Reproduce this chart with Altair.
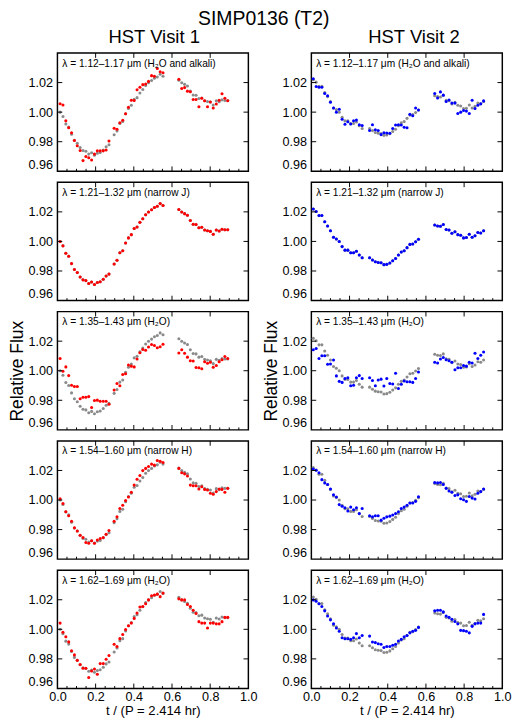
import altair as alt
import pandas as pd

FONT = "Liberation Sans"
W, H = 197, 122
RED, BLUE, GREY = "#ff0000", "#0000ff", "#8a8a8a"

TITLE = "SIMP0136 (T2)"
VISITS = ["HST Visit 1", "HST Visit 2"]
BANDS = [
    "λ = 1.12–1.17 μm (H₂O and alkali)",
    "λ = 1.21–1.32 μm (narrow J)",
    "λ = 1.35–1.43 μm (H₂O)",
    "λ = 1.54–1.60 μm (narrow H)",
    "λ = 1.62–1.69 μm (H₂O)",
]
X_TITLE = "t / (P = 2.414 hr)"
Y_TITLE = "Relative Flux"
X_TICKS = [0.0, 0.2, 0.4, 0.6, 0.8, 1.0]
X_INNER = [0.2, 0.4, 0.6, 0.8]
X_MINOR = [0.05, 0.1, 0.15, 0.25, 0.3, 0.35, 0.45, 0.5, 0.55, 0.65, 0.7, 0.75, 0.85, 0.9, 0.95]
Y_TICKS = [0.96, 0.98, 1.00, 1.02, 1.04]
Y_INNER = [0.98, 1.00, 1.02]

# ---- Visit 1 ----
T_V1 = [0.014, 0.029, 0.044, 0.059, 0.074, 0.089, 0.104, 0.119, 0.134, 0.149, 0.164, 0.179, 0.194, 0.209, 0.224, 0.240, 0.255, 0.270,
        0.297, 0.312, 0.327, 0.342, 0.357, 0.372, 0.387, 0.402, 0.417, 0.432, 0.447, 0.462, 0.477, 0.493, 0.508, 0.523, 0.538, 0.553,
        0.636, 0.651, 0.666, 0.681, 0.696, 0.711, 0.726, 0.741, 0.756, 0.771, 0.786, 0.801, 0.816, 0.832, 0.847, 0.862, 0.877, 0.892]
V1_B1 = [1.0057, 1.0048, 0.9941, 0.9895, 0.9860, 0.9808, 0.9773, 0.9740, 0.9672, 0.9700, 0.9692, 0.9676, 0.9716, 0.9738, 0.9738, 0.9738, 0.9744, 0.9805,
         0.9891, 0.9884, 0.9928, 0.9945, 0.9989, 1.0033, 1.0081, 1.0079, 1.0151, 1.0168, 1.0186, 1.0190, 1.0208, 1.0247, 1.0243, 1.0295, 1.0273, 1.0267,
         1.0223, 1.0160, 1.0166, 1.0142, 1.0138, 1.0085, 1.0085, 1.0037, 1.0094, 1.0077, 1.0037, 1.0068, 1.0028, 1.0055, 1.0081, 1.0125, 1.0094, 1.0077]
V1_J = [1.0000, 0.9970, 0.9920, 0.9900, 0.9850, 0.9810, 0.9790, 0.9760, 0.9740, 0.9735, 0.9716, 0.9725, 0.9709, 0.9722, 0.9727, 0.9744, 0.9766, 0.9779,
        0.9847, 0.9873, 0.9923, 0.9937, 0.9989, 1.0024, 1.0046, 1.0087, 1.0098, 1.0129, 1.0153, 1.0181, 1.0199, 1.0214, 1.0230, 1.0238, 1.0256, 1.0243,
        1.0216, 1.0199, 1.0188, 1.0177, 1.0142, 1.0116, 1.0114, 1.0092, 1.0096, 1.0077, 1.0072, 1.0068, 1.0048, 1.0077, 1.0070, 1.0083, 1.0079, 1.0079]
V1_B3 = [1.0083, 0.9996, 1.0026, 0.9967, 0.9902, 0.9893, 0.9893, 0.9810, 0.9821, 0.9821, 0.9825, 0.9751, 0.9799, 0.9801, 0.9794, 0.9794, 0.9794, 0.9773,
         0.9869, 0.9913, 0.9899, 0.9974, 0.9980, 1.0039, 1.0031, 1.0026, 1.0079, 1.0122, 1.0144, 1.0138, 1.0160, 1.0177, 1.0171, 1.0155, 1.0162, 1.0179,
         1.0120, 1.0142, 1.0118, 1.0092, 1.0068, 1.0066, 1.0022, 1.0020, 1.0013, 1.0061, 1.0050, 1.0057, 1.0024, 1.0035, 1.0061, 1.0074, 1.0096, 1.0083]
V1_B4 = [1.0009, 0.9976, 0.9921, 0.9893, 0.9856, 0.9812, 0.9790, 0.9762, 0.9746, 0.9713, 0.9707, 0.9724, 0.9707, 0.9729, 0.9740, 0.9746, 0.9768, 0.9794,
         0.9856, 0.9886, 0.9943, 0.9965, 0.9996, 1.0020, 1.0052, 1.0101, 1.0140, 1.0166, 1.0199, 1.0214, 1.0227, 1.0243, 1.0236, 1.0267, 1.0262, 1.0254,
         1.0214, 1.0184, 1.0177, 1.0162, 1.0101, 1.0096, 1.0096, 1.0074, 1.0090, 1.0072, 1.0068, 1.0046, 1.0039, 1.0057, 1.0074, 1.0072, 1.0052, 1.0079]
V1_B5 = [1.0042, 0.9980, 0.9950, 0.9915, 0.9855, 0.9827, 0.9790, 0.9762, 0.9736, 0.9736, 0.9674, 0.9718, 0.9731, 0.9696, 0.9768, 0.9768, 0.9797, 0.9823,
         0.9899, 0.9884, 0.9937, 0.9965, 0.9998, 1.0024, 1.0042, 1.0074, 1.0111, 1.0151, 1.0155, 1.0173, 1.0199, 1.0227, 1.0232, 1.0238, 1.0221, 1.0245,
         1.0206, 1.0199, 1.0199, 1.0168, 1.0155, 1.0129, 1.0107, 1.0052, 1.0042, 1.0042, 1.0009, 1.0042, 1.0042, 1.0037, 1.0037, 1.0052, 1.0081, 1.0081]

# ---- Visit 2 ----
T_V2 = [0.010, 0.025, 0.040, 0.055, 0.070, 0.085, 0.100, 0.116, 0.131, 0.146, 0.161, 0.176, 0.191, 0.206, 0.221, 0.236, 0.251, 0.266,
        0.305, 0.320, 0.335, 0.350, 0.365, 0.380, 0.395, 0.411, 0.426, 0.441, 0.456, 0.471, 0.486, 0.501, 0.516, 0.531, 0.546, 0.561,
        0.646, 0.661, 0.676, 0.691, 0.706, 0.721, 0.736, 0.752, 0.767, 0.782, 0.797, 0.812, 0.827, 0.842, 0.857, 0.872, 0.887, 0.902]
V2_B1 = [1.0226, 1.0174, 1.0169, 1.0169, 1.0126, 1.0111, 1.0067, 1.0028, 1.0000, 1.0020, 0.9952, 0.9918, 0.9935, 0.9920, 0.9941, 0.9946, 0.9915, 0.9909,
         0.9876, 0.9915, 0.9881, 0.9876, 0.9848, 0.9861, 0.9859, 0.9857, 0.9889, 0.9913, 0.9915, 0.9913, 0.9898, 0.9894, 0.9985, 0.9975, 1.0028, 1.0015,
         1.0126, 1.0096, 1.0137, 1.0115, 1.0072, 1.0082, 1.0061, 1.0061, 0.9991, 1.0000, 1.0011, 1.0007, 0.9991, 1.0080, 1.0024, 1.0046, 1.0056, 1.0076]
V2_J = [1.0219, 1.0203, 1.0175, 1.0175, 1.0133, 1.0105, 1.0072, 1.0028, 1.0017, 1.0000, 0.9965, 0.9941, 0.9941, 0.9923, 0.9923, 0.9934, 0.9908, 0.9889,
        0.9889, 0.9875, 0.9862, 0.9858, 0.9856, 0.9843, 0.9845, 0.9854, 0.9869, 0.9884, 0.9908, 0.9928, 0.9937, 0.9958, 0.9980, 0.9983, 0.9998, 1.0015,
        1.0111, 1.0105, 1.0103, 1.0114, 1.0081, 1.0077, 1.0055, 1.0066, 1.0046, 1.0042, 1.0024, 1.0026, 1.0048, 1.0028, 1.0039, 1.0061, 1.0057, 1.0072]
V2_B3 = [1.0142, 1.0151, 1.0083, 1.0101, 1.0101, 1.0044, 1.0046, 1.0072, 0.9965, 0.9928, 0.9921, 0.9948, 0.9952, 0.9899, 0.9902, 0.9952, 0.9967, 0.9948,
         0.9952, 0.9934, 0.9899, 0.9937, 0.9943, 0.9897, 0.9948, 0.9913, 0.9910, 0.9983, 0.9880, 0.9908, 0.9930, 0.9926, 0.9926, 0.9921, 0.9948, 0.9991,
         1.0057, 1.0052, 1.0079, 1.0090, 1.0074, 1.0068, 1.0057, 1.0007, 1.0020, 1.0020, 1.0035, 1.0031, 1.0057, 1.0052, 1.0118, 1.0083, 1.0105, 1.0127]
V2_B4 = [1.0210, 1.0201, 1.0184, 1.0138, 1.0116, 1.0105, 1.0074, 1.0035, 1.0020, 0.9969, 0.9958, 0.9948, 0.9926, 0.9952, 0.9934, 0.9948, 0.9908, 0.9943,
         0.9893, 0.9886, 0.9893, 0.9893, 0.9864, 0.9877, 0.9886, 0.9891, 0.9899, 0.9908, 0.9921, 0.9943, 0.9952, 0.9965, 0.9980, 0.9980, 0.9991, 1.0022,
         1.0118, 1.0116, 1.0118, 1.0105, 1.0079, 1.0061, 1.0052, 1.0031, 1.0035, 1.0009, 1.0002, 0.9991, 1.0024, 1.0013, 1.0007, 1.0046, 1.0057, 1.0074]
V2_B5 = [1.0199, 1.0190, 1.0173, 1.0155, 1.0125, 1.0090, 1.0064, 1.0037, 1.0009, 0.9987, 0.9943, 0.9936, 0.9936, 0.9932, 0.9943, 0.9971, 0.9943, 0.9958,
         0.9954, 0.9914, 0.9910, 0.9903, 0.9899, 0.9877, 0.9884, 0.9884, 0.9892, 0.9899, 0.9921, 0.9932, 0.9949, 0.9958, 0.9976, 0.9987, 0.9993, 1.0013,
         1.0125, 1.0129, 1.0129, 1.0118, 1.0090, 1.0081, 1.0068, 1.0053, 1.0037, 0.9993, 0.9991, 0.9987, 0.9976, 1.0020, 1.0037, 1.0042, 1.0042, 1.0101]

VISIT_DATA = [
    (T_V1, V1_J, [V1_B1, V1_J, V1_B3, V1_B4, V1_B5], RED, 22),
    (T_V2, V2_J, [V2_B1, V2_J, V2_B3, V2_B4, V2_B5], BLUE, 28),
]

XS = alt.Scale(domain=[0, 1], nice=False, zero=False)
YS = alt.Scale(domain=[0.96, 1.04], nice=False, zero=False)

Y_AXIS = dict(values=Y_TICKS,
              labelExpr="datum.value > 1.03 ? '' : format(datum.value, '.2f')",
              labelFlush=True, ticks=False, domain=False, grid=False,
              labelPadding=5, titlePadding=2, labelFontSize=13, titleFontSize=18,
              labelFont=FONT, titleFont=FONT, titleFontWeight="normal",
              labelColor="black", titleColor="black")
X_AXIS = dict(values=X_TICKS, format=".1f", ticks=False, domain=False, grid=False,
              labelPadding=2, titlePadding=1, labelFlush=False,
              labelFontSize=13, titleFontSize=13.5, labelFont=FONT, titleFont=FONT,
              titleFontWeight="normal", labelColor="black", titleColor="black")


def panel(t, ref, vals, label, color, row):
    show_x = row == 4
    show_yt = row == 2

    def xenc(field):
        if show_x:
            return alt.X(field, type="quantitative", scale=XS, axis=alt.Axis(**X_AXIS), title=X_TITLE)
        return alt.X(field, type="quantitative", scale=XS, axis=None)

    def yenc(field):
        if show_yt:
            return alt.Y(field, type="quantitative", scale=YS, axis=alt.Axis(**Y_AXIS), title=Y_TITLE)
        return alt.Y(field, type="quantitative", scale=YS, axis=alt.Axis(**Y_AXIS), title=None)

    df = pd.DataFrame({"t": t, "ref": ref, "flux": vals})
    base = alt.Chart(df)
    grey = base.mark_circle(size=10, color=GREY, opacity=1).encode(x=xenc("t"), y=yenc("ref"))
    col = base.mark_circle(size=10, color=color, opacity=1).encode(x=xenc("t"), y=yenc("flux"))
    txt = alt.Chart(pd.DataFrame({"label": [label]})).mark_text(
        align="left", baseline="alphabetic", fontSize=10.5, font=FONT, color="black"
    ).encode(x=alt.value(5), y=alt.value(14), text="label:N")

    def yrule(**enc):
        return alt.Chart(pd.DataFrame({"v": Y_INNER})).mark_rule(color="black", strokeWidth=1).encode(
            y=yenc("v"), **enc)

    def xrule(values, **enc):
        return alt.Chart(pd.DataFrame({"t": values})).mark_rule(color="black", strokeWidth=1).encode(
            x=xenc("t"), **enc)

    layers = [
        grey, col, txt,
        yrule(x=alt.value(0), x2=alt.value(5)),
        yrule(x=alt.value(W - 5), x2=alt.value(W)),
        xrule(X_INNER, y=alt.value(H - 5), y2=alt.value(H)),
        xrule(X_INNER, y=alt.value(0), y2=alt.value(5)),
        xrule(X_MINOR, y=alt.value(H - 2.5), y2=alt.value(H)),
    ]
    return alt.layer(*layers).properties(width=W, height=H)


columns = []
for vi, (t, ref, bands, color, tdx) in enumerate(VISIT_DATA):
    panels = [panel(t, ref, bands[r], BANDS[r], color, r) for r in range(5)]
    columns.append(
        alt.vconcat(*panels, spacing=7.4).properties(
            title=alt.TitleParams(VISITS[vi], fontSize=19, font=FONT, fontWeight="normal",
                                  anchor="middle", offset=5, dx=tdx, color="black")
        )
    )

chart = alt.hconcat(*columns, spacing=3).properties(
    title=alt.TitleParams(TITLE, fontSize=20, font=FONT, fontWeight="normal",
                          anchor="middle", offset=0, dx=4, color="black"),
    padding={"left": -1, "top": -11, "right": 0, "bottom": 0},
).configure_view(stroke="black", strokeWidth=1.5)

chart.save("out.html", embed_options={"renderer": "svg", "actions": False})
